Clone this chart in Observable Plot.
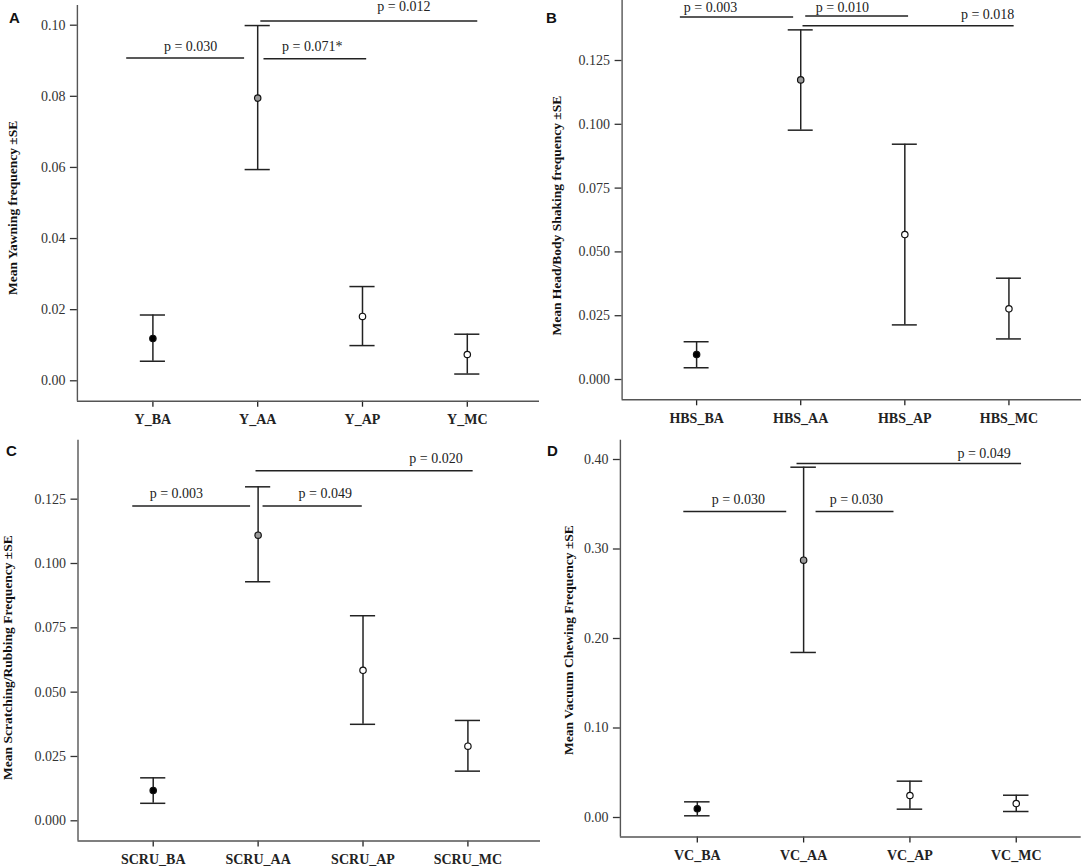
<!DOCTYPE html>
<html>
<head>
<meta charset="utf-8">
<script src="https://cdn.jsdelivr.net/npm/d3@7"></script>
<script src="https://cdn.jsdelivr.net/npm/@observablehq/plot@0.6"></script>
<style>
  html, body { margin: 0; padding: 0; background: #ffffff; }
  #wrap { position: relative; width: 1084px; height: 866px; overflow: hidden; background: #fff; }
  .panel { position: absolute; }
  .letter { position: absolute; font: bold 15px "Liberation Sans", Arial, sans-serif; color: #111; line-height: 1; }
  g[aria-label="x-axis tick label"] text { font-weight: bold; }
</style>
</head>
<body>
<div id="wrap"></div>
<script>
// ---------- Data ----------
// Panel A : Yawning
const groupsA = ["Y_BA", "Y_AA", "Y_AP", "Y_MC"];
const meanA = [0.0119, 0.0795, 0.0181, 0.0074];
const lowA  = [0.0055, 0.0594, 0.0099, 0.0019];
const highA = [0.0185, 0.0999, 0.0265, 0.0131];
const ticksA = [0, 0.02, 0.04, 0.06, 0.08, 0.10];
const sigLabelA = ["p = 0.030", "p = 0.071*", "p = 0.012"];
const sigFromA  = [-0.25, 1.06, 1.03];
const sigToA    = [0.875, 2.04, 3.10];
const sigYA     = [0.0908, 0.0906, 0.1012];
const sigTextXA = [0.36, 1.52, 2.395];
const sigTextYA = [0.0941, 0.0941, 0.1053];

// Panel B : Head/Body Shaking
const groupsB = ["HBS_BA", "HBS_AA", "HBS_AP", "HBS_MC"];
const meanB = [0.0098, 0.1174, 0.0568, 0.0277];
const lowB  = [0.0046, 0.0977, 0.0214, 0.0159];
const highB = [0.0148, 0.1370, 0.0922, 0.0397];
const ticksB = [0, 0.025, 0.05, 0.075, 0.1, 0.125];
const sigLabelB = ["p = 0.003", "p = 0.010", "p = 0.018"];
const sigFromB  = [-0.156, 1.048, 1.022];
const sigToB    = [0.932, 2.036, 3.05];
const sigYB     = [0.1420, 0.1424, 0.1386];
const sigTextXB = [0.134, 1.40, 2.795];
const sigTextYB = [0.1457, 0.1458, 0.1430];

// Panel C : Scratching/Rubbing
const groupsC = ["SCRU_BA", "SCRU_AA", "SCRU_AP", "SCRU_MC"];
const meanC = [0.0118, 0.1110, 0.0585, 0.0290];
const lowC  = [0.0068, 0.0929, 0.0375, 0.0193];
const highC = [0.0167, 0.1298, 0.0797, 0.0390];
const ticksC = [0, 0.025, 0.05, 0.075, 0.1, 0.125];
const sigLabelC = ["p = 0.003", "p = 0.049", "p = 0.020"];
const sigFromC  = [-0.195, 1.047, 0.98];
const sigToC    = [0.928, 1.993, 3.05];
const sigYC     = [0.1223, 0.1223, 0.1360];
const sigTextXC = [0.221, 1.64, 2.696];
const sigTextYC = [0.1272, 0.1272, 0.1408];

// Panel D : Vacuum Chewing
const groupsD = ["VC_BA", "VC_AA", "VC_AP", "VC_MC"];
const meanD = [0.0097, 0.2875, 0.0246, 0.0156];
const lowD  = [0.0019, 0.1844, 0.0093, 0.0067];
const highD = [0.0175, 0.3914, 0.0406, 0.0249];
const ticksD = [0, 0.1, 0.2, 0.3, 0.4];
const sigLabelD = ["p = 0.030", "p = 0.030", "p = 0.049"];
const sigFromD  = [-0.127, 1.117, 0.938];
const sigToD    = [0.841, 1.85, 3.05];
const sigYD     = [0.3419, 0.3419, 0.3955];
const sigTextXD = [0.386, 1.496, 2.698];
const sigTextYD = [0.3556, 0.3556, 0.4067];

const yLabels = [
  "Mean Yawning frequency \u00B1SE",
  "Mean Head/Body Shaking frequency \u00B1SE",
  "Mean Scratching/Rubbing Frequency \u00B1SE",
  "Mean Vacuum Chewing Frequency \u00B1SE"
];
const panelLetters = ["A", "B", "C", "D"];

// ---------- Styles / layout ----------
const SERIF = "'Liberation Serif', 'Times New Roman', Times, serif";
const pointFills = ["#000000", "#9a9a9a", "#ffffff", "#ffffff"];
const CAP = 0.12; // half-width of error-bar caps, in category units

const datasets = [
  {groups: groupsA, mean: meanA, low: lowA, high: highA, ticks: ticksA, fmt: ".2f",
   sigLabel: sigLabelA, sigFrom: sigFromA, sigTo: sigToA, sigY: sigYA, textX: sigTextXA, textY: sigTextYA},
  {groups: groupsB, mean: meanB, low: lowB, high: highB, ticks: ticksB, fmt: ".3f",
   sigLabel: sigLabelB, sigFrom: sigFromB, sigTo: sigToB, sigY: sigYB, textX: sigTextXB, textY: sigTextYB},
  {groups: groupsC, mean: meanC, low: lowC, high: highC, ticks: ticksC, fmt: ".3f",
   sigLabel: sigLabelC, sigFrom: sigFromC, sigTo: sigToC, sigY: sigYC, textX: sigTextXC, textY: sigTextYC},
  {groups: groupsD, mean: meanD, low: lowD, high: highD, ticks: ticksD, fmt: ".2f",
   sigLabel: sigLabelD, sigFrom: sigFromD, sigTo: sigToD, sigY: sigYD, textX: sigTextXD, textY: sigTextYD}
];

const layouts = [
  {left: 0,   top: 0,   ml: 76.9, mr: 3,   mt: 5,   mb: 32.3, xd: [-0.7204, 3.689], yd: [-0.00574, 0.10554], ldx: -64.8, ldy: 4.5,  lx: 9,  ly: 10},
  {left: 542, top: 0,   ml: 79.6, mr: 3,   mt: 0,   mb: 33.7, xd: [-0.7157, 3.697], yd: [-0.00795, 0.14851], ldx: -65.7, ldy: 15.5, lx: 4,  ly: 10},
  {left: 0,   top: 433, ml: 77.5, mr: 2,   mt: 6.7, mb: 25.5, xd: [-0.717, 3.692],  yd: [-0.00785, 0.14792], ldx: -70.6, ldy: 17,   lx: 6,  ly: 10},
  {left: 542, top: 433, ml: 77.9, mr: 3.3, mt: 6.7, mb: 29.5, xd: [-0.7234, 3.611], yd: [-0.02179, 0.42157], ldx: -51.9, ldy: 1.5,  lx: 5,  ly: 10}
];

function makePanel(d, L, ylabel) {
  const rows = d.groups.map((g, i) => ({i, g, mean: d.mean[i], lo: d.low[i], hi: d.high[i]}));
  const sig = d.sigLabel.map((t, k) => ({t, x1: d.sigFrom[k], x2: d.sigTo[k], y: d.sigY[k], tx: d.textX[k], ty: d.textY[k]}));
  return Plot.plot({
    width: 542,
    height: 433,
    marginLeft: L.ml,
    marginRight: L.mr,
    marginTop: L.mt,
    marginBottom: L.mb,
    style: {fontFamily: SERIF, background: "transparent", overflow: "visible", color: "#222"},
    x: {domain: L.xd},
    y: {domain: L.yd},
    color: {type: "identity"},
    marks: [
      Plot.axisY({ticks: d.ticks, tickFormat: d3.format(d.fmt), tickSize: 7, tickPadding: 5,
                  fontSize: 14, color: "#333", strokeWidth: 1.3, label: null}),
      Plot.axisX({ticks: [0, 1, 2, 3], tickFormat: i => d.groups[i], tickSize: 6, tickPadding: 7,
                  fontSize: 14, fontWeight: "bold", color: "#222", strokeWidth: 1.3, label: null}),
      Plot.ruleX([L.xd[0]], {stroke: "#555", strokeWidth: 1.4}),
      Plot.ruleY([L.yd[0]], {stroke: "#555", strokeWidth: 1.4}),
      Plot.ruleY(sig, {y: "y", x1: "x1", x2: "x2", stroke: "#222", strokeWidth: 1.5}),
      Plot.text(sig, {x: "tx", y: "ty", text: "t", fontSize: 14, fill: "#222"}),
      Plot.ruleX(rows, {x: "i", y1: "lo", y2: "hi", stroke: "#222", strokeWidth: 1.5}),
      Plot.ruleY(rows, {y: "hi", x1: r => r.i - CAP, x2: r => r.i + CAP, stroke: "#222", strokeWidth: 1.5}),
      Plot.ruleY(rows, {y: "lo", x1: r => r.i - CAP, x2: r => r.i + CAP, stroke: "#222", strokeWidth: 1.5}),
      Plot.dot(rows, {x: "i", y: "mean", r: 3.2, fill: r => pointFills[r.i], stroke: "#111", strokeWidth: 1.2}),
      Plot.text([ylabel], {frameAnchor: "left", textAnchor: "middle", lineAnchor: "middle", rotate: -90,
                           dx: L.ldx, dy: L.ldy, fontWeight: "bold", fontSize: 13.5, fill: "#111"})
    ]
  });
}

const wrap = document.getElementById("wrap");
datasets.forEach((d, k) => {
  const L = layouts[k];
  const div = document.createElement("div");
  div.className = "panel";
  div.style.left = L.left + "px";
  div.style.top = L.top + "px";
  div.appendChild(makePanel(d, L, yLabels[k]));
  wrap.appendChild(div);
  const letter = document.createElement("div");
  letter.className = "letter";
  letter.textContent = panelLetters[k];
  letter.style.left = (L.left + L.lx) + "px";
  letter.style.top = (L.top + L.ly) + "px";
  wrap.appendChild(letter);
});
</script>
</body>
</html>
